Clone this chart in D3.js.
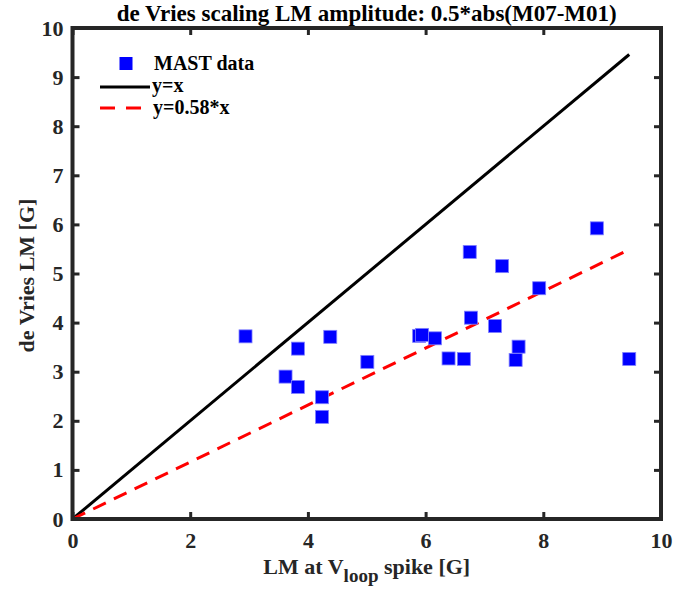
<!DOCTYPE html>
<html>
<head>
<meta charset="utf-8">
<script src="https://cdn.jsdelivr.net/npm/d3@7"></script>
<style>
  body { margin: 0; background: #fff; }
  svg text { font-family: "Liberation Serif", "Times New Roman", serif; font-weight: bold; fill: #262626; }
</style>
</head>
<body>
<div id="chart"></div>
<script>
// MAST data points
let lmSpike = [2.94, 3.83, 4.38, 3.62, 3.83, 4.24, 4.24, 5.01, 5.89, 5.94, 6.16, 6.39, 6.65, 6.75, 6.77, 7.18, 7.30, 7.58, 7.53, 7.93, 8.91, 9.46];
let deVries = [3.72, 3.47, 3.71, 2.90, 2.69, 2.48, 2.08, 3.20, 3.73, 3.75, 3.68, 3.27, 3.26, 5.44, 4.10, 3.93, 5.15, 3.51, 3.24, 4.70, 5.92, 3.26];
let fitSlope = 0.58;
let xTicks = [0, 2, 4, 6, 8, 10];
let yTicks = [0, 1, 2, 3, 4, 5, 6, 7, 8, 9, 10];

let width = 688, height = 592;
let margin = {top: 28, right: 27, bottom: 73, left: 72.5};
let w = width - margin.left - margin.right,
    h = height - margin.top - margin.bottom;

let svg = d3.select("#chart").append("svg")
    .attr("width", width)
    .attr("height", height);

let g = svg.append("g")
    .attr("transform", "translate(" + margin.left + "," + margin.top + ")");

let x = d3.scaleLinear().domain([0, 10]).range([0, w]);
let y = d3.scaleLinear().domain([0, 10]).range([h, 0]);

let data = lmSpike.map((v, i) => ({x: v, y: deVries[i]}));
let xMax = d3.max(lmSpike);

// reference lines
let line = d3.line().x(d => x(d[0])).y(d => y(d[1]));
g.append("path")
    .datum([[0, 0], [xMax, xMax]])
    .attr("d", line)
    .attr("fill", "none")
    .attr("stroke", "#000")
    .attr("stroke-width", 3);

g.append("path")
    .datum([[0, 0], [xMax, fitSlope * xMax]])
    .attr("d", line)
    .attr("fill", "none")
    .attr("stroke", "#ff0000")
    .attr("stroke-width", 3)
    .attr("stroke-dasharray", "14,9");

// markers
let ms = 13;
g.selectAll(".pt")
    .data(data)
    .enter().append("rect")
    .attr("class", "pt")
    .attr("x", d => x(d.x) - ms / 2)
    .attr("y", d => y(d.y) - ms / 2)
    .attr("width", ms)
    .attr("height", ms)
    .attr("fill", "#0000ff")
    .attr("stroke", "#8080ff")
    .attr("stroke-width", 0.8);

// axes with inward ticks on all sides
function styleAxis(sel) {
    sel.select(".domain").remove();
    sel.selectAll(".tick line").attr("stroke", "#262626").attr("stroke-width", 3);
    sel.selectAll(".tick text").style("font-size", "22px");
}

g.append("g")
    .attr("transform", "translate(0," + h + ")")
    .call(d3.axisBottom(x).tickValues(xTicks).tickSize(-7).tickPadding(13))
    .call(styleAxis);

g.append("g")
    .call(d3.axisTop(x).tickValues(xTicks).tickSize(-7).tickFormat(""))
    .call(styleAxis);

g.append("g")
    .call(d3.axisLeft(y).tickValues(yTicks).tickSize(-7).tickPadding(9))
    .call(styleAxis);

g.append("g")
    .attr("transform", "translate(" + w + ",0)")
    .call(d3.axisRight(y).tickValues(yTicks).tickSize(-7).tickFormat(""))
    .call(styleAxis);

// frame
g.append("rect")
    .attr("width", w)
    .attr("height", h)
    .attr("fill", "none")
    .attr("stroke", "#262626")
    .attr("stroke-width", 4);

// title
svg.append("text")
    .attr("x", margin.left + w / 2)
    .attr("y", 21)
    .attr("text-anchor", "middle")
    .style("font-size", "23px")
    .style("fill", "#000")
    .text("de Vries scaling LM amplitude: 0.5*abs(M07-M01)");

// x label
let xl = svg.append("text")
    .attr("x", margin.left + w / 2)
    .attr("y", 574)
    .attr("text-anchor", "middle")
    .style("font-size", "22px");
xl.append("tspan").text("LM at V");
xl.append("tspan").attr("dy", 8).style("font-size", "19px").text("loop");
xl.append("tspan").attr("dy", -8).text(" spike [G]");

// y label
svg.append("text")
    .attr("transform", "translate(34," + (margin.top + h / 2 + 2) + ") rotate(-90)")
    .attr("text-anchor", "middle")
    .style("font-size", "22px")
    .text("de Vries LM [G]");

// legend
let lg = svg.append("g");
lg.append("rect")
    .attr("x", 126 - ms / 2).attr("y", 63.5 - ms / 2)
    .attr("width", ms).attr("height", ms)
    .attr("fill", "#0000ff");
lg.append("text").attr("x", 154).attr("y", 70).style("font-size", "20px").style("fill", "#000").text("MAST data");
lg.append("line")
    .attr("x1", 100).attr("x2", 150).attr("y1", 87).attr("y2", 87)
    .attr("stroke", "#000").attr("stroke-width", 3);
lg.append("text").attr("x", 152).attr("y", 92).style("font-size", "20px").style("fill", "#000").text("y=x");
lg.append("line")
    .attr("x1", 100).attr("x2", 141).attr("y1", 108).attr("y2", 108)
    .attr("stroke", "#ff0000").attr("stroke-width", 3)
    .attr("stroke-dasharray", "15,11");
lg.append("text").attr("x", 153).attr("y", 114).style("font-size", "20px").style("fill", "#000").text("y=0.58*x");
</script>
</body>
</html>
